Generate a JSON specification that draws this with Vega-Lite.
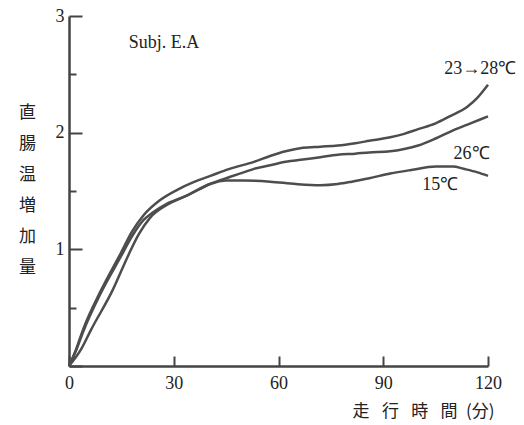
{
  "$schema": "https://vega.github.io/schema/vega-lite/v6.json",
  "autosize": "none",
  "width": 419,
  "height": 350,
  "padding": {"left": 69, "top": 16, "right": 36, "bottom": 59},
  "background": "white",
  "config": {
    "view": {"stroke": null},
    "font": "Liberation Serif"
  },
  "datasets": {
    "curves": [
      {"series": "23→28", "t": 0, "v": 0},
      {"series": "23→28", "t": 2, "v": 0.14},
      {"series": "23→28", "t": 4, "v": 0.31},
      {"series": "23→28", "t": 9.2, "v": 0.65},
      {"series": "23→28", "t": 14.7, "v": 0.96},
      {"series": "23→28", "t": 18, "v": 1.15},
      {"series": "23→28", "t": 21.3, "v": 1.29},
      {"series": "23→28", "t": 26, "v": 1.42},
      {"series": "23→28", "t": 31, "v": 1.51},
      {"series": "23→28", "t": 36, "v": 1.58},
      {"series": "23→28", "t": 40.5, "v": 1.63},
      {"series": "23→28", "t": 46, "v": 1.69},
      {"series": "23→28", "t": 53, "v": 1.75},
      {"series": "23→28", "t": 57.6, "v": 1.8},
      {"series": "23→28", "t": 62, "v": 1.84},
      {"series": "23→28", "t": 67, "v": 1.87},
      {"series": "23→28", "t": 72, "v": 1.88},
      {"series": "23→28", "t": 77, "v": 1.89},
      {"series": "23→28", "t": 82, "v": 1.91},
      {"series": "23→28", "t": 86, "v": 1.93},
      {"series": "23→28", "t": 92, "v": 1.96},
      {"series": "23→28", "t": 96, "v": 1.99},
      {"series": "23→28", "t": 100, "v": 2.03},
      {"series": "23→28", "t": 105, "v": 2.08},
      {"series": "23→28", "t": 109, "v": 2.14},
      {"series": "23→28", "t": 114, "v": 2.22},
      {"series": "23→28", "t": 117, "v": 2.3},
      {"series": "23→28", "t": 120, "v": 2.41},
      {"series": "26", "t": 0, "v": 0},
      {"series": "26", "t": 2, "v": 0.13},
      {"series": "26", "t": 4, "v": 0.29},
      {"series": "26", "t": 9.2, "v": 0.63},
      {"series": "26", "t": 14.7, "v": 0.93},
      {"series": "26", "t": 18, "v": 1.11},
      {"series": "26", "t": 21.3, "v": 1.25},
      {"series": "26", "t": 24.2, "v": 1.32},
      {"series": "26", "t": 28, "v": 1.39},
      {"series": "26", "t": 33.7, "v": 1.46},
      {"series": "26", "t": 40.4, "v": 1.56},
      {"series": "26", "t": 46, "v": 1.62},
      {"series": "26", "t": 50, "v": 1.66},
      {"series": "26", "t": 53, "v": 1.69},
      {"series": "26", "t": 57.6, "v": 1.72},
      {"series": "26", "t": 62, "v": 1.75},
      {"series": "26", "t": 67, "v": 1.77},
      {"series": "26", "t": 72, "v": 1.79},
      {"series": "26", "t": 77, "v": 1.81},
      {"series": "26", "t": 82, "v": 1.82},
      {"series": "26", "t": 86, "v": 1.83},
      {"series": "26", "t": 92, "v": 1.84},
      {"series": "26", "t": 96, "v": 1.86},
      {"series": "26", "t": 100, "v": 1.89},
      {"series": "26", "t": 105, "v": 1.95},
      {"series": "26", "t": 110, "v": 2.02},
      {"series": "26", "t": 115, "v": 2.08},
      {"series": "26", "t": 120, "v": 2.14},
      {"series": "15", "t": 0, "v": 0},
      {"series": "15", "t": 3.4, "v": 0.14},
      {"series": "15", "t": 6.3, "v": 0.31},
      {"series": "15", "t": 12.5, "v": 0.65},
      {"series": "15", "t": 17, "v": 0.95},
      {"series": "15", "t": 20, "v": 1.13},
      {"series": "15", "t": 23.2, "v": 1.27},
      {"series": "15", "t": 28, "v": 1.38},
      {"series": "15", "t": 33.7, "v": 1.46},
      {"series": "15", "t": 40.4, "v": 1.56},
      {"series": "15", "t": 45, "v": 1.59},
      {"series": "15", "t": 50, "v": 1.59},
      {"series": "15", "t": 57.6, "v": 1.58},
      {"series": "15", "t": 65, "v": 1.56},
      {"series": "15", "t": 72, "v": 1.55},
      {"series": "15", "t": 77, "v": 1.56},
      {"series": "15", "t": 81, "v": 1.58},
      {"series": "15", "t": 86, "v": 1.61},
      {"series": "15", "t": 92, "v": 1.65},
      {"series": "15", "t": 98, "v": 1.68},
      {"series": "15", "t": 105, "v": 1.71},
      {"series": "15", "t": 110, "v": 1.71},
      {"series": "15", "t": 113, "v": 1.69},
      {"series": "15", "t": 117, "v": 1.66},
      {"series": "15", "t": 120, "v": 1.63}
    ],
    "labels": [
      {"label": "Subj. E.A", "t": 27.2, "v": 2.77},
      {"label": "23→28℃", "t": 117.8, "v": 2.545},
      {"label": "26℃", "t": 115.3, "v": 1.82},
      {"label": "15℃", "t": 106.3, "v": 1.55}
    ]
  },
  "layer": [
    {
      "data": {"name": "curves"},
      "mark": {"type": "line", "interpolate": "monotone", "strokeWidth": 2.5, "color": "#4d4d4d"},
      "encoding": {
        "x": {
          "field": "t", "type": "quantitative",
          "scale": {"domain": [0, 120], "nice": false},
          "axis": {
            "values": [0, 30, 60, 90, 120],
            "grid": false,
            "domainColor": "#444", "domainWidth": 2.5,
            "tickColor": "#444", "tickWidth": 2, "tickSize": -10,
            "labelFont": "Liberation Serif", "labelFontSize": 18, "labelColor": "#222",
            "labelPadding": 18, "labelFlush": false,
            "title": "走\u2002 行\u2002 時\u2002 間\u2002(分)",
            "titleFont": "Noto Sans CJK JP", "titleFontSize": 17, "titleFontWeight": "normal", "titleColor": "#222",
            "titleAnchor": "end", "titleAlign": "right", "titleBaseline": "middle",
            "titleX": 425, "titleY": 45
          }
        },
        "y": {
          "field": "v", "type": "quantitative",
          "scale": {"domain": [0, 3], "nice": false},
          "axis": {
            "values": [0, 0.5, 1, 1.5, 2, 2.5, 3],
            "grid": false,
            "domainColor": "#444", "domainWidth": 2.5,
            "tickColor": "#444", "tickWidth": 2,
            "tickSize": {"condition": {"test": "datum.value % 1 === 0", "value": -13}, "value": -7},
            "labelExpr": "datum.value % 1 === 0 && datum.value > 0 ? format(datum.value, 'd') : ''",
            "labelFont": "Liberation Serif", "labelFontSize": 18, "labelColor": "#222",
            "labelPadding": 18, "labelFlush": false,
            "title": ["直", "腸", "温", "増", "加", "量"],
            "titleFont": "Noto Sans CJK JP", "titleFontSize": 17, "titleFontWeight": "normal", "titleColor": "#222",
            "titleAngle": 0, "titleAlign": "center", "titleBaseline": "middle",
            "titleLineHeight": 31,
            "titleX": -42, "titleY": 96
          }
        },
        "detail": {"field": "series"}
      }
    },
    {
      "data": {"name": "labels"},
      "mark": {"type": "text", "font": "Liberation Serif", "fontSize": 18, "color": "#222", "align": "center", "baseline": "middle"},
      "encoding": {
        "x": {"field": "t", "type": "quantitative"},
        "y": {"field": "v", "type": "quantitative"},
        "text": {"field": "label"}
      }
    }
  ]
}
